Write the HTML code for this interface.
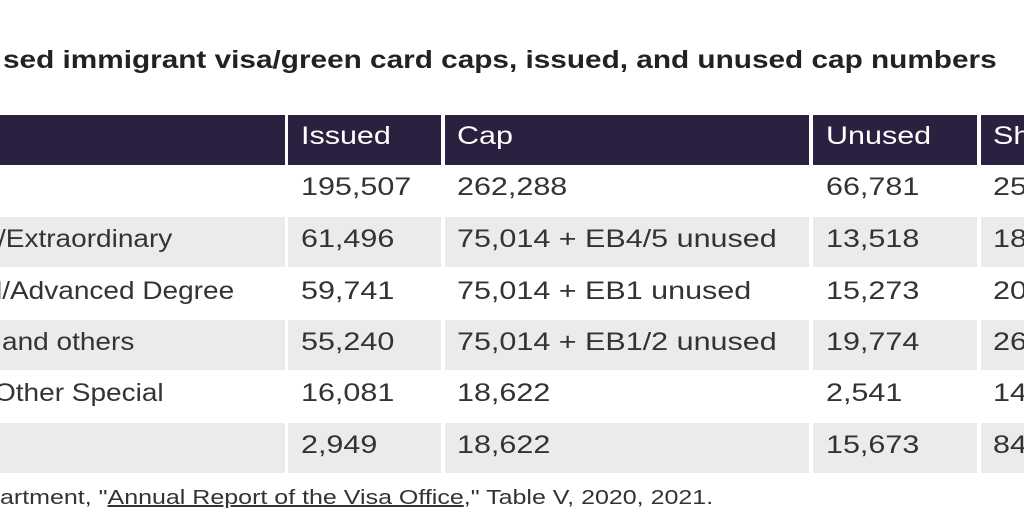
<!DOCTYPE html>
<html><head><meta charset="utf-8"><style>
body{margin:0;width:1024px;height:512px;overflow:hidden;background:#fff;font-family:"Liberation Sans",sans-serif;position:relative}
.t{position:absolute;white-space:nowrap;transform-origin:0 50%}
.title{left:3px;top:46px;font-size:25px;font-weight:bold;color:#222;transform:scaleX(1.19)}
.c{position:absolute;height:50px}
.h{background:#29213f}
.g{background:#ebebeb}
.tx{position:absolute;white-space:nowrap;font-size:25px;color:#333;line-height:50px;transform:scaleX(1.22);transform-origin:0 50%}
.f{transform:scaleX(1.12)}
.hx{color:#fff}
.src{left:0;top:487px;font-size:20px;color:#333;transform:scaleX(1.25)}
</style></head><body>
<div class="t title">sed immigrant visa/green card caps, issued, and unused cap numbers</div>
<div class="c h" style="left:0;top:115px;width:285px"></div>
<div class="c h" style="left:288px;top:115px;width:153px"></div>
<div class="c h" style="left:445px;top:115px;width:364px"></div>
<div class="c h" style="left:813px;top:115px;width:164px"></div>
<div class="c h" style="left:981px;top:115px;width:43px"></div>
<div class="tx hx" style="left:301px;top:111px">Issued</div>
<div class="tx hx" style="left:457px;top:111px">Cap</div>
<div class="tx hx" style="left:826px;top:111px">Unused</div>
<div class="tx hx" style="left:993px;top:111px">Sh</div>

<div class="c g" style="left:0;top:217px;width:285px"></div><div class="c g" style="left:288px;top:217px;width:153px"></div><div class="c g" style="left:445px;top:217px;width:364px"></div><div class="c g" style="left:813px;top:217px;width:164px"></div><div class="c g" style="left:981px;top:217px;width:43px"></div>
<div class="c g" style="left:0;top:320px;width:285px"></div><div class="c g" style="left:288px;top:320px;width:153px"></div><div class="c g" style="left:445px;top:320px;width:364px"></div><div class="c g" style="left:813px;top:320px;width:164px"></div><div class="c g" style="left:981px;top:320px;width:43px"></div>
<div class="c g" style="left:0;top:423px;width:285px"></div><div class="c g" style="left:288px;top:423px;width:153px"></div><div class="c g" style="left:445px;top:423px;width:364px"></div><div class="c g" style="left:813px;top:423px;width:164px"></div><div class="c g" style="left:981px;top:423px;width:43px"></div>

<div class="tx" style="left:301px;top:162px">195,507</div><div class="tx" style="left:457px;top:162px">262,288</div><div class="tx" style="left:826px;top:162px">66,781</div><div class="tx" style="left:993px;top:162px">25</div>
<div class="tx f" style="left:-2px;top:214px">/Extraordinary</div><div class="tx" style="left:301px;top:214px">61,496</div><div class="tx" style="left:457px;top:214px">75,014 + EB4/5 unused</div><div class="tx" style="left:826px;top:214px">13,518</div><div class="tx" style="left:993px;top:214px">18</div>
<div class="tx f" style="left:-4px;top:266px">l/Advanced Degree</div><div class="tx" style="left:301px;top:266px">59,741</div><div class="tx" style="left:457px;top:266px">75,014 + EB1 unused</div><div class="tx" style="left:826px;top:266px">15,273</div><div class="tx" style="left:993px;top:266px">20</div>
<div class="tx f" style="left:2px;top:317px">and others</div><div class="tx" style="left:301px;top:317px">55,240</div><div class="tx" style="left:457px;top:317px">75,014 + EB1/2 unused</div><div class="tx" style="left:826px;top:317px">19,774</div><div class="tx" style="left:993px;top:317px">26</div>
<div class="tx f" style="left:-6px;top:368px">Other Special</div><div class="tx" style="left:301px;top:368px">16,081</div><div class="tx" style="left:457px;top:368px">18,622</div><div class="tx" style="left:826px;top:368px">2,541</div><div class="tx" style="left:993px;top:368px">14</div>
<div class="tx" style="left:301px;top:420px">2,949</div><div class="tx" style="left:457px;top:420px">18,622</div><div class="tx" style="left:826px;top:420px">15,673</div><div class="tx" style="left:993px;top:420px">84</div>

<div class="t src">artment, "<u>Annual Report of the Visa Office</u>," Table V, 2020, 2021.</div>
</body></html>
